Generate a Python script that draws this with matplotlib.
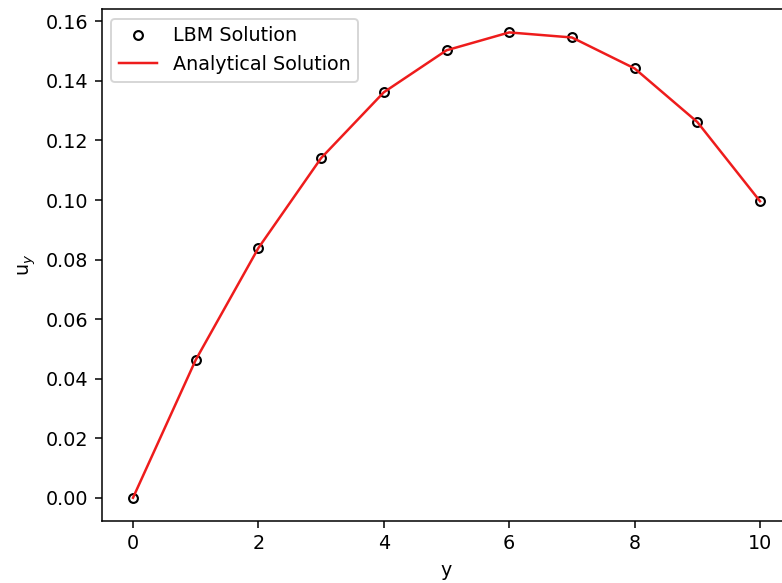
import numpy as np
import matplotlib
matplotlib.use("Agg")
import matplotlib.pyplot as plt

# velocity profile along y
y = [0, 1, 2, 3, 4, 5, 6, 7, 8, 9, 10]
u_lbm = [0.0, 0.0463, 0.0839, 0.1141, 0.1362, 0.1503, 0.1563, 0.1546, 0.1442, 0.1262, 0.0996]
u_analytical = [0.0, 0.0463, 0.0839, 0.1141, 0.1362, 0.1503, 0.1563, 0.1546, 0.1442, 0.1262, 0.0996]

dpi = 138
fig = plt.figure(figsize=(782 / dpi, 583 / dpi), dpi=dpi)
ax = fig.add_axes([0.130, 0.1063, 0.882, 0.878])

ax.plot(y, u_lbm, "o", mfc="none", mec="black", ms=4.6, mew=1.1, label="LBM Solution")
ax.plot(y, u_analytical, "-", color="#ee1c1c", lw=1.3, label="Analytical Solution")

ax.set_xlabel("y")
ax.set_ylabel("u$_y$")
ax.legend(loc="upper left")

fig.savefig("out.png", dpi=dpi)
